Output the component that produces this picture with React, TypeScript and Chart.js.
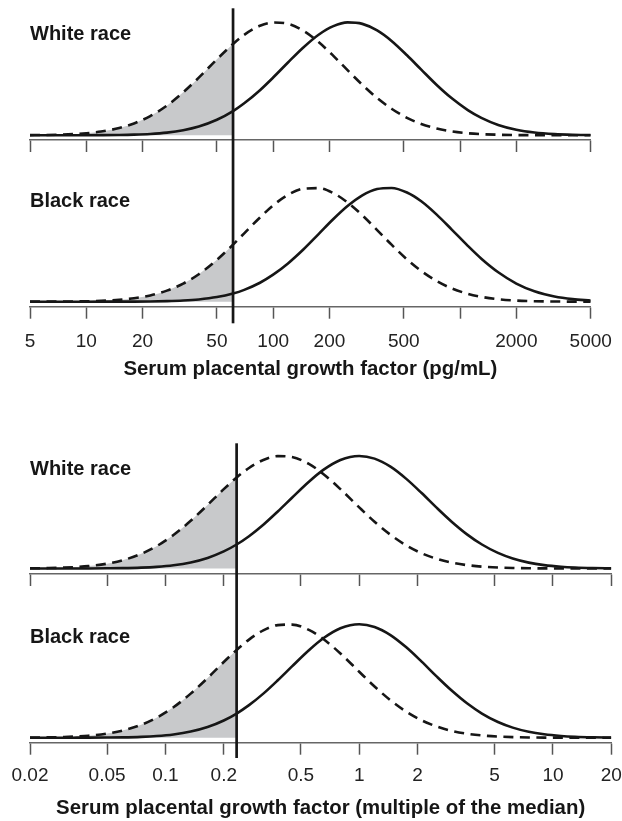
import React, { useEffect, useRef } from 'react';
import { Chart, registerables } from 'chart.js';

Chart.register(...registerables);

// ---------- Top section: serum PlGF (pg/mL), log axis ----------
const pgX = [5, 6, 7, 8, 10, 12, 15, 18, 22, 27, 33, 40, 50, 61, 70, 85, 100, 120, 145, 175, 210, 250, 300, 360, 430, 520, 620, 750, 900, 1100, 1300, 1600, 2000, 2500, 3200, 4000, 5000];
const pgCutoff = 61;
const pgTicks = [5, 10, 20, 50, 100, 200, 500, 1000, 2000, 5000];
const pgTickLabels = ['5', '10', '20', '50', '100', '200', '500', '', '2000', '5000'];

const pgWhiteSolid = [0, 0, 0.0001, 0.0001, 0.0004, 0.001, 0.0026, 0.0055, 0.0116, 0.0235, 0.0446, 0.0773, 0.137, 0.214, 0.283, 0.399, 0.511, 0.644, 0.777, 0.89, 0.966, 0.999, 0.986, 0.928, 0.835, 0.708, 0.581, 0.445, 0.329, 0.223, 0.154, 0.0916, 0.049, 0.0244, 0.0104, 0.0044, 0.0018];
const pgWhiteDashed = [0.0012, 0.0026, 0.0049, 0.0081, 0.0181, 0.0328, 0.0641, 0.1046, 0.1697, 0.2623, 0.3797, 0.5097, 0.672, 0.808, 0.889, 0.969, 0.998, 0.987, 0.926, 0.825, 0.703, 0.576, 0.447, 0.33, 0.235, 0.154, 0.1, 0.0596, 0.0345, 0.0179, 0.0099, 0.0045, 0.0018, 0.0007, 0.0002, 0.0001, 0];
const pgBlackSolid = [0, 0, 0, 0, 0, 0.0001, 0.0004, 0.0008, 0.002, 0.0047, 0.01, 0.0197, 0.0404, 0.0719, 0.1039, 0.1663, 0.2369, 0.3356, 0.4578, 0.593, 0.725, 0.839, 0.933, 0.988, 0.998, 0.958, 0.881, 0.764, 0.635, 0.49, 0.377, 0.258, 0.159, 0.0916, 0.0458, 0.0226, 0.0104];
const pgBlackDashed = [0.0002, 0.0004, 0.0008, 0.0014, 0.0036, 0.0073, 0.0163, 0.0299, 0.055, 0.0968, 0.159, 0.241, 0.367, 0.5, 0.6, 0.739, 0.845, 0.937, 0.991, 0.996, 0.952, 0.871, 0.758, 0.628, 0.5, 0.371, 0.269, 0.181, 0.1175, 0.0692, 0.0424, 0.0219, 0.01, 0.0043, 0.0015, 0.0006, 0.0002];

// ---------- Bottom section: multiple of the median, log axis ----------
const momX = [0.02, 0.025, 0.03, 0.035, 0.04, 0.05, 0.06, 0.075, 0.09, 0.11, 0.135, 0.165, 0.2, 0.233, 0.27, 0.32, 0.38, 0.45, 0.55, 0.65, 0.8, 1, 1.2, 1.45, 1.75, 2.1, 2.5, 3, 3.6, 4.3, 5.2, 6.2, 7.5, 9, 11, 13, 16, 20];
const momCutoff = 0.233;
const momTicks = [0.02, 0.05, 0.1, 0.2, 0.5, 1, 2, 5, 10, 20];
const momTickLabels = ['0.02', '0.05', '0.1', '0.2', '0.5', '1', '2', '5', '10', '20'];

const momWhiteSolid = [0, 0.0001, 0.0001, 0.0003, 0.0005, 0.0015, 0.0031, 0.0076, 0.0147, 0.0288, 0.0539, 0.0939, 0.1518, 0.2131, 0.2868, 0.3886, 0.5063, 0.6284, 0.7704, 0.8738, 0.9643, 1, 0.9762, 0.9048, 0.7963, 0.6703, 0.5428, 0.4157, 0.3034, 0.2131, 0.1384, 0.0889, 0.0521, 0.0299, 0.0153, 0.0083, 0.0037, 0.0015];
const momWhiteDashed = [0.0015, 0.0037, 0.0076, 0.0133, 0.0211, 0.043, 0.0728, 0.1302, 0.1979, 0.297, 0.4234, 0.5645, 0.705, 0.8081, 0.8933, 0.9643, 0.9981, 0.99, 0.9292, 0.8422, 0.705, 0.5428, 0.4157, 0.2995, 0.2049, 0.1353, 0.0868, 0.0521, 0.0299, 0.0166, 0.0083, 0.0042, 0.0019, 0.0009, 0.0003, 0.0001, 0, 0];
const momBlackSolid = [0, 0.0001, 0.0001, 0.0003, 0.0005, 0.0015, 0.0031, 0.0076, 0.0147, 0.0288, 0.0539, 0.0939, 0.1518, 0.2131, 0.2868, 0.3886, 0.5063, 0.6284, 0.7704, 0.8738, 0.9643, 1, 0.9762, 0.9048, 0.7963, 0.6703, 0.5428, 0.4157, 0.3034, 0.2131, 0.1384, 0.0889, 0.0521, 0.0299, 0.0153, 0.0083, 0.0037, 0.0015];
const momBlackDashed = [0.0012, 0.003, 0.0062, 0.011, 0.0177, 0.0366, 0.0628, 0.1142, 0.1761, 0.2682, 0.3886, 0.5261, 0.667, 0.7735, 0.8648, 0.9459, 0.9922, 0.997, 0.9502, 0.8725, 0.7422, 0.5813, 0.4515, 0.3301, 0.2291, 0.1535, 0.0998, 0.0608, 0.0353, 0.0198, 0.0101, 0.0052, 0.0024, 0.0011, 0.0004, 0.0002, 0.0001, 0];

const pgTitle = 'Serum placental growth factor (pg/mL)';
const momTitle = 'Serum placental growth factor (multiple of the median)';

// ---------- styling / layout ----------
const FONT = '"Liberation Sans", Arial, Helvetica, sans-serif';
const INK = '#161616';
const SHADE = '#c8c9cb';
const W = 622;

type Spec = {
  label: string;
  xs: number[];
  solid: number[];
  dashed: number[];
  cutoff: number;
  ticks: number[];
  tickLabels: string[];
  showLabels: boolean;
  title: string;
  top: number;
  height: number;
  padTop: number;
  padRight: number;
  scaleHeight: number;
  yMin: number;
  yMax: number;
  labelBaseline: number;
  cutY1: number;
  cutY2: number;
  tickPad: number;
  titlePad: number;
};

const panels: Spec[] = [
  {
    label: 'White race', xs: pgX, solid: pgWhiteSolid, dashed: pgWhiteDashed, cutoff: pgCutoff,
    ticks: pgTicks, tickLabels: pgTickLabels, showLabels: false, title: '',
    top: 0, height: 160, padTop: 11, padRight: 31.3, scaleHeight: 20, yMin: -0.042, yMax: 1.1,
    labelBaseline: 40, cutY1: 8.3, cutY2: 160, tickPad: 0, titlePad: 0,
  },
  {
    label: 'Black race', xs: pgX, solid: pgBlackSolid, dashed: pgBlackDashed, cutoff: pgCutoff,
    ticks: pgTicks, tickLabels: pgTickLabels, showLabels: true, title: pgTitle,
    top: 160, height: 230, padTop: 16.3, padRight: 31.3, scaleHeight: 83.3, yMin: -0.044, yMax: 1.1,
    labelBaseline: 46.7, cutY1: 0, cutY2: 163.3, tickPad: 11.6, titlePad: 8.6,
  },
  {
    label: 'White race', xs: momX, solid: momWhiteSolid, dashed: momWhiteDashed, cutoff: momCutoff,
    ticks: momTicks, tickLabels: momTickLabels, showLabels: false, title: '',
    top: 400, height: 200, padTop: 44.7, padRight: 10.7, scaleHeight: 26, yMin: -0.049, yMax: 1.1,
    labelBaseline: 75, cutY1: 43.3, cutY2: 200, tickPad: 0, titlePad: 0,
  },
  {
    label: 'Black race', xs: momX, solid: momBlackSolid, dashed: momBlackDashed, cutoff: momCutoff,
    ticks: momTicks, tickLabels: momTickLabels, showLabels: true, title: momTitle,
    top: 600, height: 221, padTop: 12.9, padRight: 10.7, scaleHeight: 78.3, yMin: -0.044, yMax: 1.1,
    labelBaseline: 43.3, cutY1: 0, cutY2: 158, tickPad: 9.3, titlePad: 0.6,
  },
];

const cutLinePlugin = {
  id: 'cutLine',
  afterDraw(chart: any, _args: any, opts: any) {
    const x = chart.scales.x.getPixelForValue(opts.value);
    const ctx = chart.ctx;
    ctx.save();
    ctx.strokeStyle = INK;
    ctx.lineWidth = 2.7;
    ctx.beginPath();
    ctx.moveTo(x, opts.y1);
    ctx.lineTo(x, opts.y2);
    ctx.stroke();
    ctx.restore();
  },
};

const panelLabelPlugin = {
  id: 'panelLabel',
  afterDraw(chart: any, _args: any, opts: any) {
    const ctx = chart.ctx;
    ctx.save();
    ctx.font = `bold 20px ${FONT}`;
    ctx.fillStyle = INK;
    ctx.textAlign = 'left';
    ctx.textBaseline = 'alphabetic';
    ctx.fillText(opts.text, chart.chartArea.left, opts.baseline);
    ctx.restore();
  },
};

function buildConfig(s: Spec): any {
  const pts = (ys: number[]) => s.xs.map((x, i) => ({ x, y: ys[i] }));
  const cutIdx = s.xs.indexOf(s.cutoff);
  const shade = s.xs.slice(0, cutIdx + 1).map((x, i) => ({ x, y: s.dashed[i] }));
  return {
    type: 'line',
    data: {
      datasets: [
        {
          label: 'solid', data: pts(s.solid), order: 0,
          borderColor: INK, borderWidth: 2.6, pointRadius: 0, fill: false,
          cubicInterpolationMode: 'monotone',
        },
        {
          label: 'dashed', data: pts(s.dashed), order: 1,
          borderColor: INK, borderWidth: 2.6, borderDash: [10, 6.5], pointRadius: 0, fill: false,
          cubicInterpolationMode: 'monotone',
        },
        {
          label: 'shade', data: shade, order: 2,
          borderWidth: 0, borderColor: 'rgba(0,0,0,0)', backgroundColor: SHADE, pointRadius: 0,
          fill: 'origin', cubicInterpolationMode: 'monotone',
        },
      ],
    },
    options: {
      responsive: false,
      animation: false,
      devicePixelRatio: 1,
      events: [],
      layout: { padding: { left: 30, right: s.padRight, top: s.padTop, bottom: 0 } },
      scales: {
        x: {
          type: 'logarithmic',
          min: s.ticks[0],
          max: s.ticks[s.ticks.length - 1],
          afterBuildTicks: (scale: any) => {
            scale.ticks = s.ticks.map((v) => ({ value: v }));
          },
          afterFit: (scale: any) => {
            scale.height = s.scaleHeight;
            scale.paddingLeft = 0;
            scale.paddingRight = 0;
          },
          ticks: {
            display: s.showLabels,
            autoSkip: false,
            maxRotation: 0,
            minRotation: 0,
            padding: s.tickPad,
            color: '#222',
            font: { family: FONT, size: 19 },
            callback: (_v: any, i: number) => s.tickLabels[i],
          },
          grid: {
            display: true,
            drawOnChartArea: false,
            drawTicks: true,
            tickLength: 12,
            tickWidth: 1.5,
            tickColor: '#555',
            color: '#555',
          },
          border: { display: true, color: '#666', width: 1.5 },
          title: {
            display: !!s.title,
            text: s.title,
            color: INK,
            font: { family: FONT, size: 20.4, weight: 'bold' },
            padding: { top: 0, bottom: s.titlePad },
          },
        },
        y: { type: 'linear', display: false, min: s.yMin, max: s.yMax },
      },
      plugins: {
        legend: { display: false },
        tooltip: { enabled: false },
        cutLine: { value: s.cutoff, y1: s.cutY1, y2: s.cutY2 },
        panelLabel: { text: s.label, baseline: s.labelBaseline },
      },
    },
    plugins: [cutLinePlugin, panelLabelPlugin],
  };
}

function Panel({ spec }: { spec: Spec }) {
  const ref = useRef<HTMLCanvasElement | null>(null);
  useEffect(() => {
    if (!ref.current) return;
    const chart = new Chart(ref.current, buildConfig(spec));
    return () => chart.destroy();
  }, [spec]);
  return (
    <canvas
      ref={ref}
      width={W}
      height={spec.height}
      style={{ position: 'absolute', left: 0, top: spec.top, width: W, height: spec.height }}
    />
  );
}

export default function App() {
  return (
    <div style={{ position: 'absolute', left: 0, top: 0, width: W, height: 821, overflow: 'hidden', background: '#fff' }}>
      {panels.map((p, i) => (
        <Panel key={i} spec={p} />
      ))}
    </div>
  );
}
